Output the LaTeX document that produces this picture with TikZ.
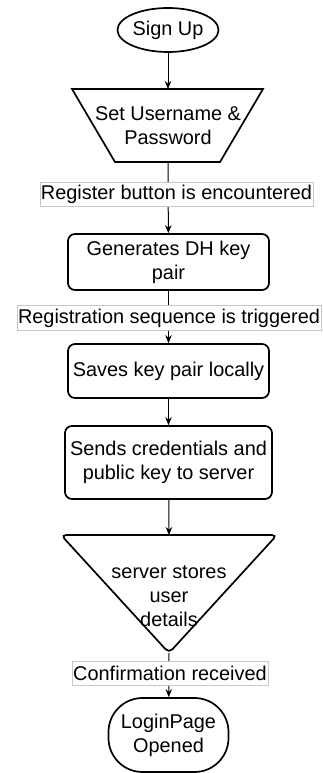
\documentclass[tikz,border=0pt]{standalone}
\usepackage{fontspec}
\setmainfont{Liberation Sans}
\usetikzlibrary{shapes.geometric,arrows.meta}
\begin{document}
\begin{tikzpicture}[x=1pt,y=-1pt,
  every node/.style={font=\fontsize{19.9}{24}\selectfont, align=center, inner sep=0pt},
  shapebox/.style={draw, line width=1.7pt},
  procbox/.style={shapebox, rectangle, rounded corners=7pt},
  conn/.style={line width=1pt, -{Stealth[length=8pt,width=6.5pt]}},
  lbl/.style={draw=black!22, line width=0.8pt, fill=white, minimum height=24pt}]
\useasboundingbox (0,0) rectangle (323,773);

\node[shapebox, ellipse, minimum width=101pt, minimum height=44pt] (signup) at (168,30) {Sign Up};

\coordinate (traptop) at (168,89);
\coordinate (trapbot) at (168,162);
\draw[shapebox] (72,89) -- (263,89) -- (220,162) -- (115,162) -- cycle;
\node (setuser) at (168,125.5) {Set Username \&\\Password};

\node[procbox, minimum width=201pt, minimum height=56pt] (gen) at (168.5,262) {Generates DH key\\pair};
\node[procbox, minimum width=201pt, minimum height=54pt] (save) at (168.5,371) {Saves key pair locally};
\node[procbox, minimum width=207pt, minimum height=73pt] (send) at (168.5,462.5) {Sends credentials and\\public key to server};

\coordinate (tritop) at (169,535);
\coordinate (triapex) at (169,653);
\draw[shapebox, rounded corners=5pt] (61,535) -- (277,535) -- (triapex) -- cycle;
\node (store) at (169,596) {server stores\\user\\details};

\node[shapebox, rectangle, rounded corners=34pt, minimum width=120pt, minimum height=74pt] (login) at (168.5,735) {LoginPage\\Opened};

\draw[conn] (signup) -- (traptop);
\draw[conn] (trapbot) -- (gen);
\draw[conn] (gen) -- (save);
\draw[conn] (save) -- (send);
\draw[conn] (send) -- (tritop);
\draw[conn] (triapex) -- (login);

\node[lbl, minimum width=273pt] (lab1) at (176.5,194) {Register button is encountered};
\node[lbl, minimum width=304pt, minimum height=25pt] (lab2) at (169,318) {Registration sequence is triggered};
\node[lbl, minimum width=196pt] (lab3) at (170,673) {Confirmation received};
\end{tikzpicture}
\end{document}
